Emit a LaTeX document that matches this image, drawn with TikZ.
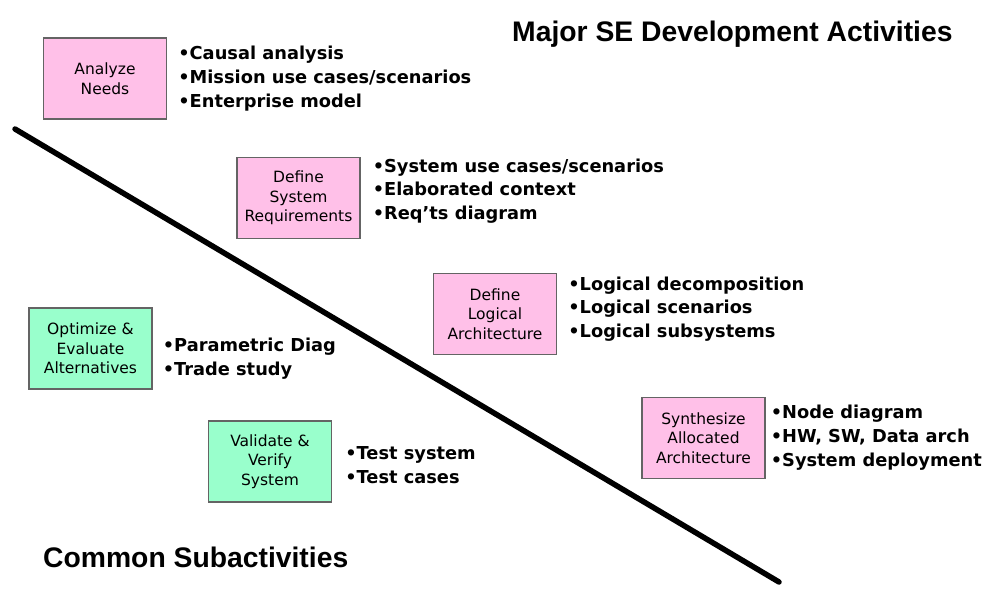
\documentclass[tikz,border=0pt]{standalone}
\usepackage{fontspec}
\setmainfont{DejaVu Sans}
\newfontfamily\headfont{Liberation Sans}
\usepackage{xcolor}
\usepackage{tikz}
\usetikzlibrary{positioning}

\definecolor{majorpink}{RGB}{255,192,232}
\definecolor{commongreen}{RGB}{153,255,204}
\definecolor{boxline}{RGB}{100,100,100}

\begin{document}
\begin{tikzpicture}[x=1pt, y=-1pt, node distance=11pt,
  activity/.style={rectangle, draw=boxline, line width=1.2pt, minimum width=123pt, minimum height=81pt, inner sep=0pt, align=center, font=\fontsize{15.5}{19.5}\selectfont},
  major/.style={activity, fill=majorpink},
  common/.style={activity, fill=commongreen},
  items/.style={inner sep=0pt, align=left, font=\bfseries\fontsize{17.8}{23.8}\selectfont},
  heading/.style={inner sep=0pt, anchor=base west, font=\headfont\bfseries\fontsize{28.3}{34}\selectfont}]
\useasboundingbox (0,0) rectangle (1000,591);

% headings
\node (majorttl) [heading] at (512,42) {Major SE Development Activities};
\node (commonttl) [heading] at (43,567) {Common Subactivities};

% dividing line
\coordinate (divtop) at (15,129);
\coordinate (divend) at (779,582);
\draw [line width=5.5pt, line cap=round] (divtop) -- (divend);

% major activities
\node (needs) [major] at (105,78.5) {Analyze\\Needs};
\node (needsitems) [items, right=11pt of needs, yshift=0pt] {•Causal analysis\\•Mission use cases/scenarios\\•Enterprise model};
\node (reqs) [major] at (298.5,198) {Define\\System\\Requirements};
\node (reqsitems) [items, right=12pt of reqs, yshift=7pt] {•System use cases/scenarios\\•Elaborated context\\•Req’ts diagram};
\node (logic) [major] at (495,314) {Define\\Logical\\Architecture};
\node (logicitems) [items, right=11pt of logic, yshift=5pt] {•Logical decomposition\\•Logical scenarios\\•Logical subsystems};
\node (synth) [major] at (703.5,438) {Synthesize\\Allocated\\Architecture};
\node (synthitems) [items, right=5pt of synth, yshift=0.5pt] {•Node diagram\\•HW, SW, Data arch\\•System deployment};

% common subactivities
\node (optim) [common] at (90.5,348.5) {Optimize \&\\Evaluate\\Alternatives};
\node (optimitems) [items, right=10pt of optim, yshift=-10pt] {•Parametric Diag\\•Trade study};
\node (valid) [common] at (270,461.5) {Validate \&\\Verify\\System};
\node (validitems) [items, right=13pt of valid, yshift=-3.5pt] {•Test system\\•Test cases};
\end{tikzpicture}
\end{document}
